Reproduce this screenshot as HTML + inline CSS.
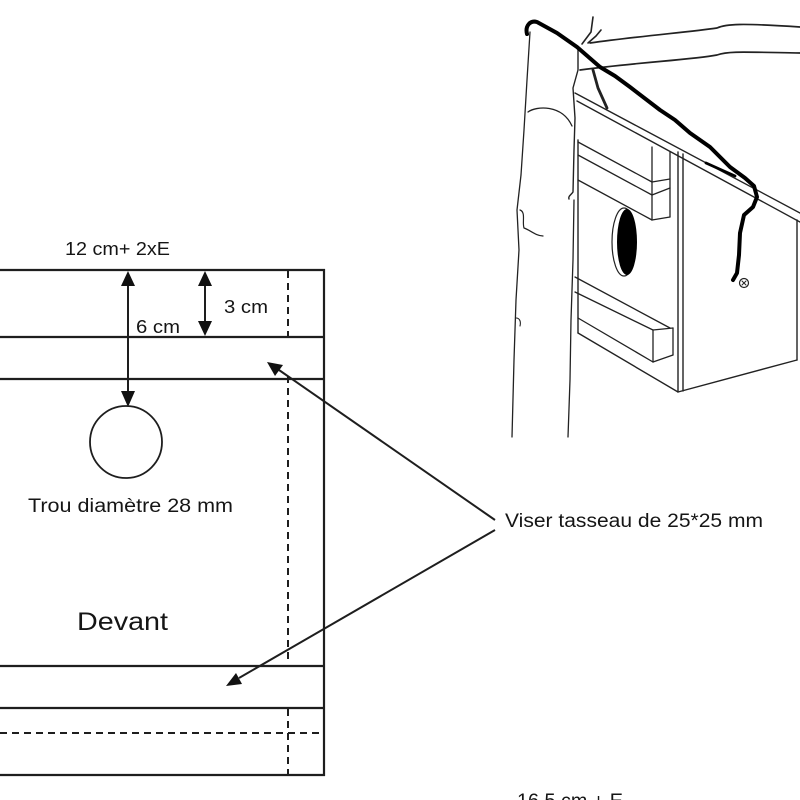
<!DOCTYPE html>
<html>
<head>
<meta charset="utf-8">
<style>
html,body{margin:0;padding:0;background:#fff;}
svg{display:block;}
text{font-family:"Liberation Sans",Arial,sans-serif;fill:#151515;}
</style>
</head>
<body>
<svg width="800" height="800" viewBox="0 0 800 800" xmlns="http://www.w3.org/2000/svg">
<rect width="800" height="800" fill="#fff"/>

<!-- ===== Left plan ===== -->
<g stroke="#1e1e1e" stroke-width="2.2" fill="none">
  <line x1="0" y1="270" x2="325" y2="270"/>
  <line x1="0" y1="337" x2="325" y2="337"/>
  <line x1="0" y1="379" x2="325" y2="379"/>
  <line x1="0" y1="666" x2="325" y2="666"/>
  <line x1="0" y1="708" x2="325" y2="708"/>
  <line x1="0" y1="775" x2="325" y2="775"/>
  <line x1="324" y1="269" x2="324" y2="776"/>
</g>
<g stroke="#1e1e1e" stroke-width="2" fill="none" stroke-dasharray="7,5">
  <line x1="288" y1="271" x2="288" y2="336"/>
  <line x1="288" y1="376" x2="288" y2="660"/>
  <line x1="288" y1="709" x2="288" y2="775"/>
  <line x1="0" y1="733" x2="323" y2="733"/>
</g>

<!-- vertical dimension arrows -->
<g stroke="#1e1e1e" stroke-width="2">
  <line x1="128" y1="283" x2="128" y2="394"/>
  <line x1="205" y1="284" x2="205" y2="323"/>
  <line x1="495" y1="520" x2="279" y2="370"/>
  <line x1="495" y1="530" x2="239" y2="678"/>
</g>
<g fill="#111">
  <polygon points="128,271 121,286 135,286"/>
  <polygon points="128,407 121,391 135,391"/>
  <polygon points="205,271 198,286 212,286"/>
  <polygon points="205,336 198,321 212,321"/>
  <polygon points="267,362 283,365 275,376"/>
  <polygon points="226,686 242,684 236,673"/>
</g>

<circle cx="126" cy="442" r="36" fill="none" stroke="#1e1e1e" stroke-width="1.8"/>

<text x="65" y="255" font-size="18" textLength="105" lengthAdjust="spacingAndGlyphs">12 cm+ 2xE</text>
<text x="224" y="313" font-size="18" textLength="44" lengthAdjust="spacingAndGlyphs">3 cm</text>
<text x="136" y="333" font-size="18" textLength="44" lengthAdjust="spacingAndGlyphs">6 cm</text>
<text x="28" y="512" font-size="19" textLength="205" lengthAdjust="spacingAndGlyphs">Trou diamètre 28 mm</text>
<text x="77" y="630" font-size="25" textLength="91" lengthAdjust="spacingAndGlyphs">Devant</text>
<text x="505" y="527" font-size="19" textLength="258" lengthAdjust="spacingAndGlyphs">Viser tasseau de 25*25 mm</text>
<text x="517" y="807" font-size="19" textLength="106" lengthAdjust="spacingAndGlyphs">16.5 cm + E</text>

<!-- ===== Right illustration ===== -->
<g stroke="#222" fill="none" stroke-linecap="round" stroke-linejoin="round">
  <!-- tree trunk left outline -->
  <path d="M530,32 L527,80 L524,130 L521,175 L517,210 L519,250 L516,300 L514,360 L512,437" stroke-width="1.3"/>
  <path d="M520,210 C526,212 522,222 524,228 C530,230 536,236 543,236" stroke-width="1.2"/>
  <path d="M516,318 C520,318 521,322 520,326" stroke-width="1.1"/>
  <!-- tree trunk right outline -->
  <path d="M578,47 L578,70 L573,88 L575,118 L574,150 L573,192 C571,195 568,196 569,199" stroke-width="1.4"/>
  <path d="M574,200 L573,260 L571,320 L570,380 L568,437" stroke-width="1.3"/>
  <!-- knot -->
  <path d="M528,112 C536,106 562,104 572,126" stroke-width="1.3"/>
  <!-- branch -->
  <path d="M590,43 C640,36 690,32 717,28 C726,24 740,23 800,27" stroke-width="1.7"/>
  <path d="M580,70 C640,62 690,60 717,55 C728,51 742,52 800,53" stroke-width="1.7"/>
  <!-- twigs -->
  <path d="M593,17 L591,32 L582,44" stroke-width="1.6"/>
  <path d="M601,30 L596,36 L588,43" stroke-width="1.6"/>
  <path d="M593,70 L598,88 L607,108" stroke-width="2.8"/>

  <!-- roof edge -->
  <path d="M575,93 L800,213" stroke-width="1.4"/>
  <path d="M577,101 L800,222" stroke-width="1.4"/>

  <!-- front face -->
  <line x1="578" y1="140" x2="578" y2="333" stroke-width="1.4"/>
  <line x1="678" y1="152" x2="678" y2="392" stroke-width="1.4"/>
  <line x1="683" y1="154" x2="683" y2="391" stroke-width="1.4"/>
  <path d="M578,333 L678,392 L797,360" stroke-width="1.4"/>
  <line x1="797" y1="220" x2="797" y2="360" stroke-width="1.4"/>

  <!-- top strip -->
  <line x1="578" y1="142" x2="652" y2="182" stroke-width="1.3"/>
  <line x1="578" y1="155" x2="652" y2="195" stroke-width="1.3"/>
  <line x1="578" y1="180" x2="652" y2="220" stroke-width="1.3"/>
  <line x1="652" y1="147" x2="652" y2="220" stroke-width="1.3"/>
  <line x1="670" y1="152" x2="670" y2="217" stroke-width="1.3"/>
  <line x1="652" y1="182" x2="670" y2="179" stroke-width="1.3"/>
  <line x1="652" y1="195" x2="670" y2="188" stroke-width="1.3"/>
  <line x1="652" y1="220" x2="670" y2="217" stroke-width="1.3"/>

  <!-- bottom strip -->
  <line x1="575" y1="277" x2="670" y2="328" stroke-width="1.3"/>
  <line x1="575" y1="292" x2="653" y2="330" stroke-width="1.3"/>
  <line x1="578" y1="318" x2="653" y2="362" stroke-width="1.3"/>
  <line x1="653" y1="330" x2="653" y2="362" stroke-width="1.3"/>
  <line x1="673" y1="328" x2="673" y2="355" stroke-width="1.3"/>
  <line x1="653" y1="330" x2="673" y2="328" stroke-width="1.3"/>
  <line x1="653" y1="362" x2="673" y2="355" stroke-width="1.3"/>

  <!-- hole -->
  <ellipse cx="624" cy="242" rx="12" ry="34" stroke-width="1.2"/>

  <!-- screw -->
  <circle cx="744" cy="283" r="4.5" stroke-width="1.2"/>
  <path d="M742,281 L746,285 M746,281 L742,285" stroke-width="1"/>
</g>
<ellipse cx="627" cy="242" rx="10" ry="33" fill="#000"/>

<!-- rope -->
<path d="M527,34 C525,26 530,20 537,22 L557,33 L577,47 L600,67 L615,76 L630,87 L660,110 L675,120 L690,133 L710,147 L720,157 L730,167 L745,178 L754,186 L757,197 L753,207 L744,215 L740,233 L739,255 L737,273 L733,280"
 fill="none" stroke="#000" stroke-width="4" stroke-linecap="round" stroke-linejoin="round"/>
<path d="M706,163 L735,176" fill="none" stroke="#000" stroke-width="2.8" stroke-linecap="round"/>
</svg>
</body>
</html>
